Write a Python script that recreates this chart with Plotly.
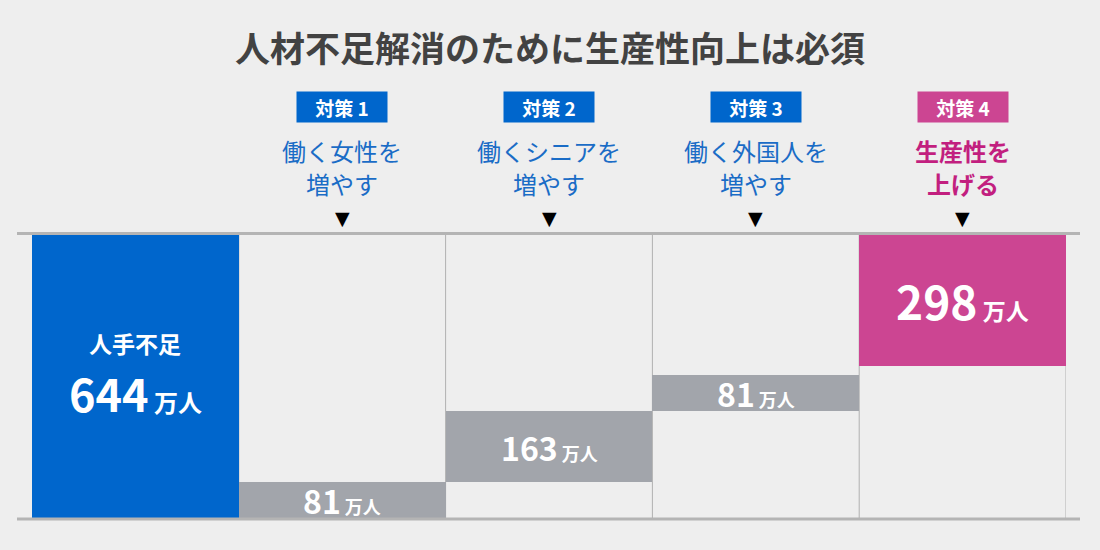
import plotly.graph_objects as go

# ---- data ----
categories = ["人手不足", "対策 1", "対策 2", "対策 3", "対策 4"]
values = [644, 81, 163, 81, 298]
measure_titles = ["", "働く女性を|増やす", "働くシニアを|増やす", "働く外国人を|増やす", "生産性を|上げる"]
unit = "万人"
title_text = "人材不足解消のために生産性向上は必須"

total = values[0]
# bases: first bar from 0, middle steps stacked cumulatively, last one hanging from the total
bases = [0]
acc = 0
for v in values[1:-1]:
    bases.append(acc)
    acc += v
bases.append(total - values[-1])

BLUE = "#0066cc"
GRAY = "#a2a5ab"
PINK = "#cc4592"
PINK_TXT = "#c21f7f"
BLUE_TXT = "#1a6cc6"
BG = "#eeeeee"
FONT = "Noto Sans CJK JP"
colors = [BLUE, GRAY, GRAY, GRAY, PINK]

W, H = 1100, 550
L, R, T, B = 32, 34, 235, 32
plot_h = H - T - B

def py(ypix):
    return (H - B - ypix) / plot_h

def px(xpix):
    return (xpix - L) / (W - L - R)

x = list(range(len(values)))
fig = go.Figure(go.Bar(
    x=x, y=values, base=bases, width=1,
    marker=dict(color=colors, line=dict(width=0)),
    hoverinfo="skip",
))

shapes = []
# thin column separators
for i in range(len(values) + 1):
    shapes.append(dict(type="line", xref="x", yref="y", x0=i - 0.5, x1=i - 0.5,
                       y0=0, y1=total, line=dict(color="#b0b0b0", width=1), layer="below"))
# top and bottom rules (just outside the plotting area)
for ypix in (233.5, 519.0):
    shapes.append(dict(type="line", xref="paper", yref="paper", x0=px(17), x1=px(1080),
                       y0=py(ypix), y1=py(ypix), line=dict(color="#b4b4b4", width=3), layer="above"))

ann = []
C = dict(xanchor="center", yanchor="middle", showarrow=False)
# title
ann.append(dict(text=f"<b>{title_text}</b>", xref="paper", yref="paper", x=px(550), y=py(47),
                font=dict(family=FONT, size=35, color="#424242"), **C))

for i in range(1, len(values)):
    is_last = i == len(values) - 1
    box_col = PINK if is_last else BLUE
    txt_col = PINK_TXT if is_last else BLUE_TXT
    ann.append(dict(text=f"<b>{categories[i]}</b>", xref="x", yref="paper", x=i, y=py(107),
                    bgcolor=box_col, width=88, height=28,
                    font=dict(family=FONT, size=19, color="white"), **C))
    lines = measure_titles[i].split("|")
    for j, ln in enumerate(lines):
        t = f"<b>{ln}</b>" if is_last else ln
        ann.append(dict(text=t, xref="x", yref="paper", x=i, y=py(150 + 33 * j),
                        font=dict(family=FONT, size=24, color=txt_col), **C))
    ann.append(dict(text="▼", xref="x", yref="paper", x=i, y=py(218),
                    font=dict(family="DejaVu Sans", size=19, color="black"), **C))

# bar labels
def val_label(v, big, small):
    return (f"<b><span style='font-size:{big}px'>{v}</span>"
            f"<span style='font-size:{small}px'> {unit}</span></b>")

mid0 = bases[0] + values[0] / 2
ann.append(dict(text=f"<b>{categories[0]}</b>", xref="x", yref="y", x=0, y=mid0, yshift=34,
                font=dict(family=FONT, size=23, color="white"), **C))
ann.append(dict(text=val_label(values[0], 45, 24), xref="x", yref="y", x=0, y=mid0, yshift=-16,
                font=dict(family=FONT, size=24, color="white"), **C))
for i in range(1, len(values)):
    mid = bases[i] + values[i] / 2
    big, small = (46, 23) if i == len(values) - 1 else (32, 18)
    ann.append(dict(text=val_label(values[i], big, small), xref="x", yref="y", x=i, y=mid,
                    font=dict(family=FONT, size=small, color="white"), **C))

fig.update_layout(
    width=W, height=H,
    margin=dict(l=L, r=R, t=T, b=B),
    paper_bgcolor=BG, plot_bgcolor=BG,
    showlegend=False,
    xaxis=dict(range=[-0.5, len(values) - 0.5], visible=False, fixedrange=True),
    yaxis=dict(range=[0, total], visible=False, fixedrange=True),
    shapes=shapes, annotations=ann,
    bargap=0,
)
fig.write_html("out.html", config={"displayModeBar": False},
               post_script="document.body.style.margin='0';document.body.style.background='#eeeeee';")
